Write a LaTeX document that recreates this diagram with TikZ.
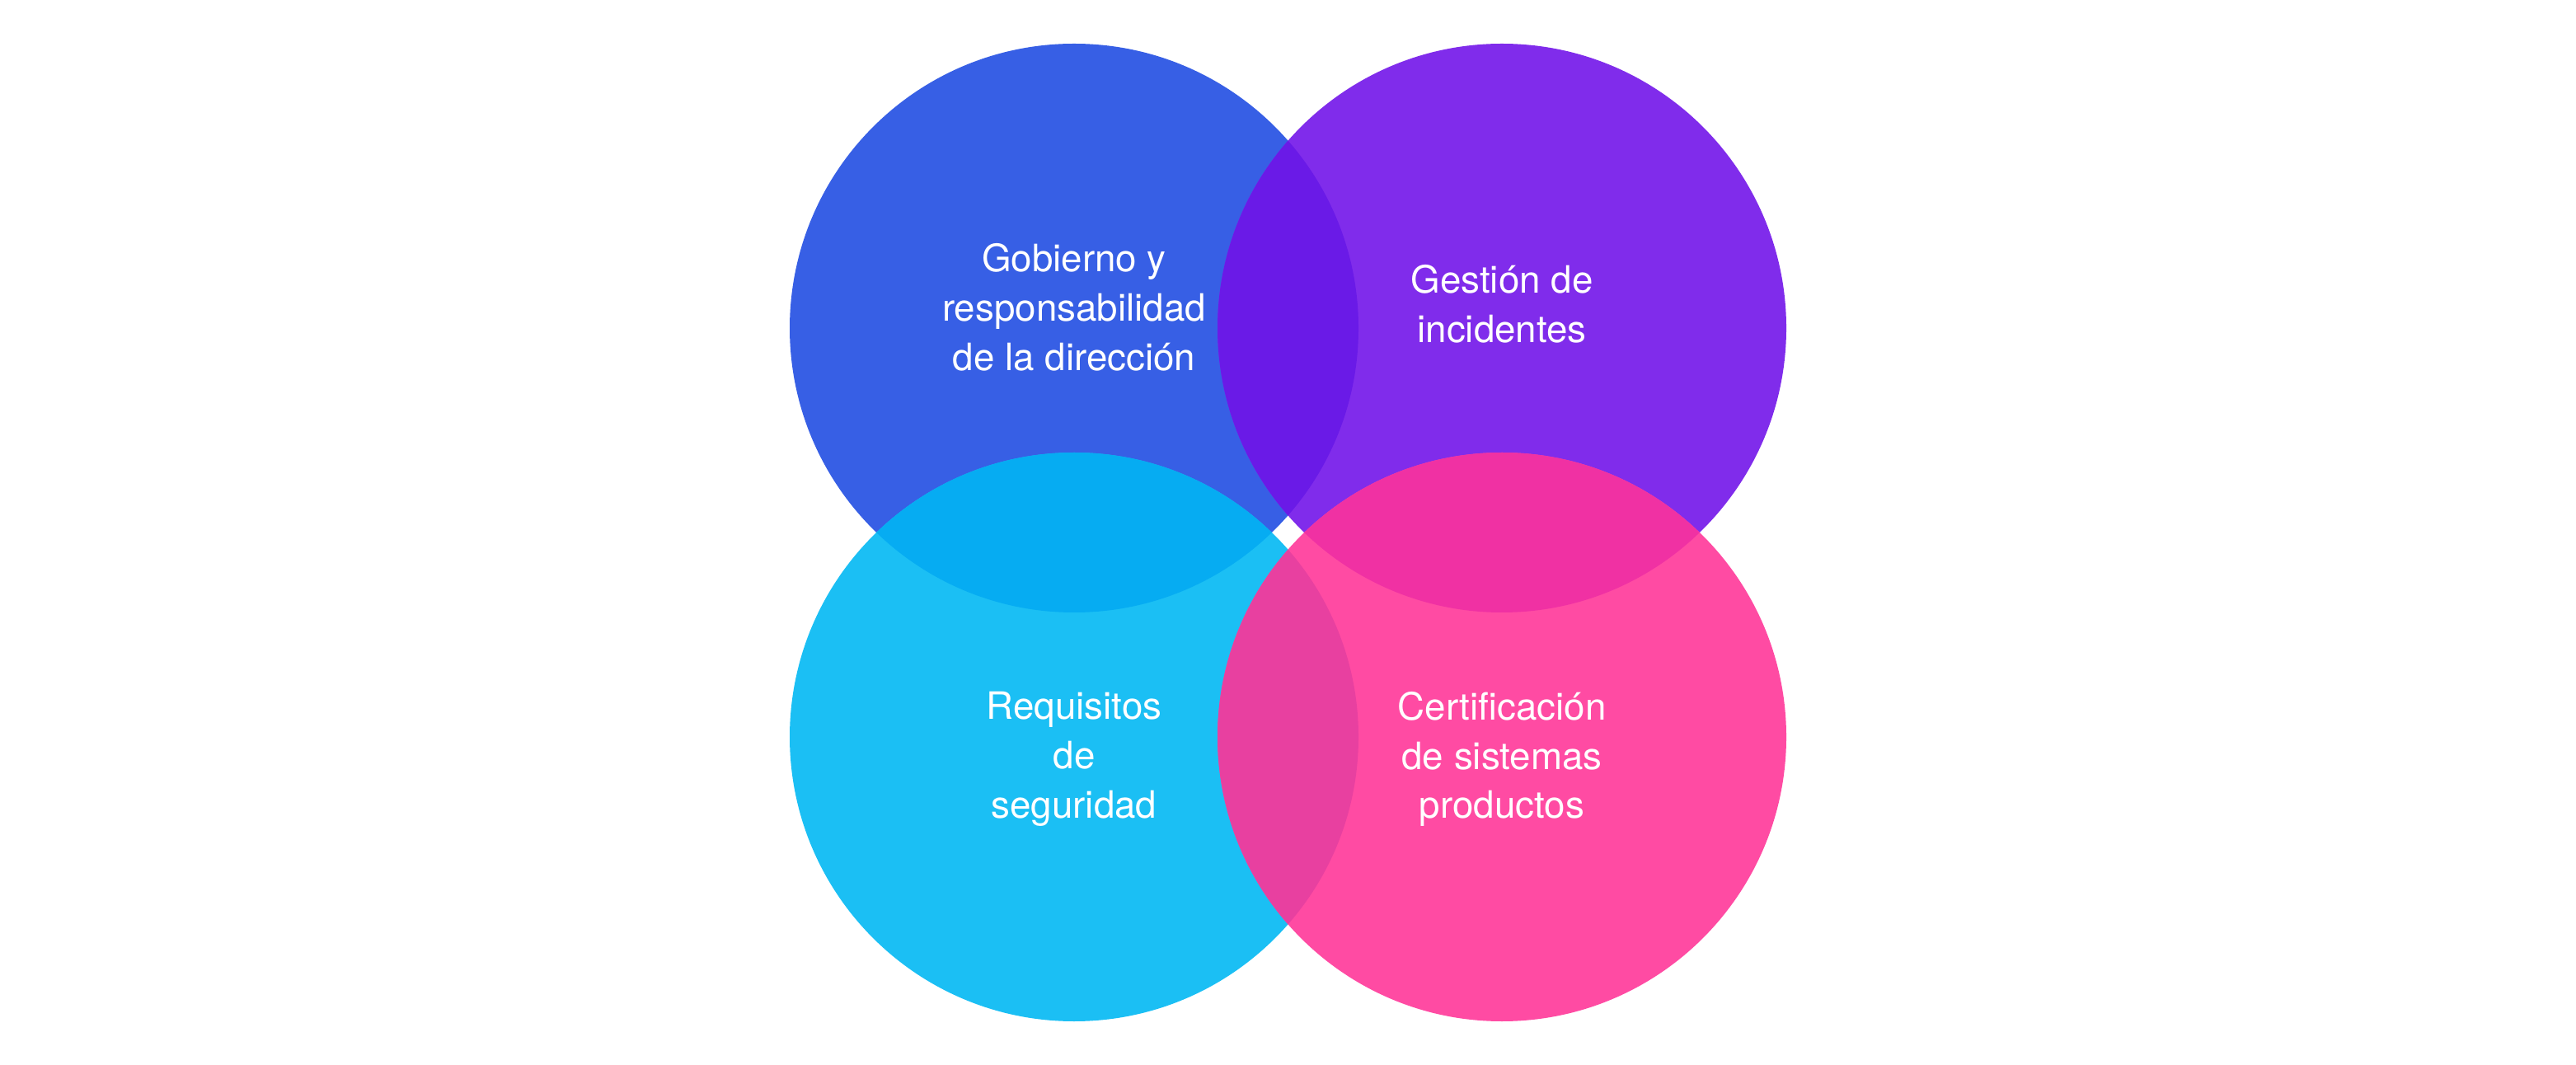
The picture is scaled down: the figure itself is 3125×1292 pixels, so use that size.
\documentclass[tikz,border=0pt]{standalone}
\usepackage{fontspec}
\setmainfont{TeX Gyre Heros}
\definecolor{cblue}{HTML}{375FE5}
\definecolor{cpurple}{HTML}{802CEB}
\definecolor{ccyan}{HTML}{1BBFF4}
\definecolor{cpink}{HTML}{FF4BA3}
\definecolor{cbp}{HTML}{6A1AE7}
\definecolor{cbc}{HTML}{06ACF2}
\definecolor{cpp}{HTML}{F031A3}
\definecolor{ccp}{HTML}{E840A0}
\begin{document}
\begin{tikzpicture}[x=0.01cm,y=-0.01cm,
  lbl/.style={text=white,align=center,font=\fontsize{13pt}{17pt}\selectfont,inner sep=0pt}]
\useasboundingbox (0,0) rectangle (3125,1292);
\def\R{345}
\coordinate (tl) at (1303,398);
\coordinate (tr) at (1822,398);
\coordinate (bl) at (1303,894);
\coordinate (br) at (1822,894);
\fill[cblue] (tl) circle (\R);
\fill[cpurple] (tr) circle (\R);
\fill[ccyan] (bl) circle (\R);
\fill[cpink] (br) circle (\R);
\begin{scope}
  \clip (tl) circle (\R);
  \fill[cbp] (tr) circle (\R);
\end{scope}
\begin{scope}
  \clip (tl) circle (\R);
  \fill[cbc] (bl) circle (\R);
\end{scope}
\begin{scope}
  \clip (tr) circle (\R);
  \fill[cpp] (br) circle (\R);
\end{scope}
\begin{scope}
  \clip (bl) circle (\R);
  \fill[ccp] (br) circle (\R);
\end{scope}
\node[lbl] (t1) at (1303,373) {Gobierno y\\responsabilidad\\de la dirección};
\node[lbl] (t2) at (1822,369) {Gestión de\\incidentes};
\node[lbl] (t3) at (1303,921) {Requisitos\\de\\seguridad};
\node[lbl] (t4) at (1822,921) {Certificación\\de sistemas\\productos};
\end{tikzpicture}
\end{document}
